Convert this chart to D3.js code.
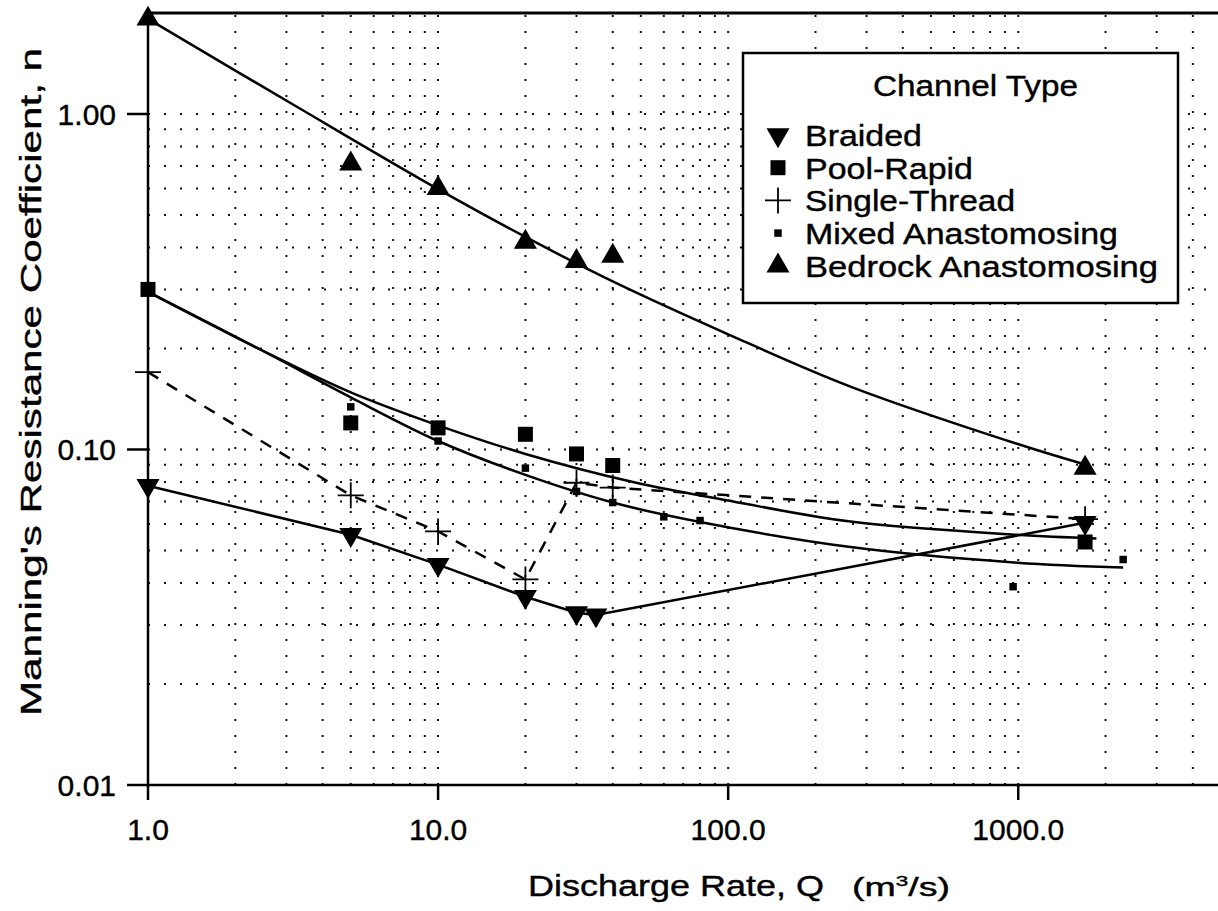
<!DOCTYPE html>
<html><head><meta charset="utf-8">
<script src="https://cdn.jsdelivr.net/npm/d3@7"></script>
<style>body{margin:0;background:#fff}svg{display:block}</style>
</head><body><svg id="c" width="1218" height="911"></svg>
<script>
// ---- data ----
const xTickValues = [1, 10, 100, 1000];
const xTickLabels = ["1.0", "10.0", "100.0", "1000.0"];
const yTickValues = [1, 0.1, 0.01];
const yTickLabels = ["1.00", "0.10", "0.01"];

const braidedQ = [1, 5, 10, 20, 30, 35, 1700];
const braidedN = [0.078, 0.0557, 0.0454, 0.0364, 0.0326, 0.0321, 0.0605];

const poolQ = [1, 5, 10, 20, 30, 40, 1700];
const poolN = [0.30, 0.12, 0.116, 0.111, 0.097, 0.0896, 0.053];
const poolFitQ = [1, 2.4, 5, 10, 20, 47, 104, 264, 990, 1860];
const poolFitN = [0.295, 0.20, 0.148, 0.118, 0.097, 0.080, 0.070, 0.061, 0.0557, 0.0543];

const singleQ = [1, 5, 10, 20, 30, 40, 1700];
const singleN = [0.17, 0.073, 0.057, 0.041, 0.0796, 0.077, 0.062];

const mixedQ = [5, 10, 20, 30, 40, 60, 80, 960, 2300];
const mixedN = [0.134, 0.106, 0.088, 0.075, 0.0695, 0.063, 0.0614, 0.039, 0.047];
const mixedFitQ = [1, 2.4, 5, 10, 20, 40, 80, 264, 990, 2300];
const mixedFitN = [0.295, 0.20, 0.143, 0.106, 0.084, 0.0695, 0.0608, 0.0512, 0.046, 0.0445];

const bedrockQ = [1, 5, 10, 20, 30, 40, 1700];
const bedrockN = [1.92, 0.71, 0.60, 0.415, 0.364, 0.377, 0.088];
const bedrockFitQ = [1, 3.27, 10, 20, 40, 100, 264, 990, 1700];
const bedrockFitN = [1.92, 1.049, 0.597, 0.430, 0.317, 0.2205, 0.154, 0.104, 0.0902];

const legendTitle = "Channel Type";
const legendLabels = ["Braided", "Pool-Rapid", "Single-Thread", "Mixed Anastomosing", "Bedrock Anastomosing"];
const legendKeys = ["down", "square", "plus", "small", "up"];

// ---- drawing ----
const svg = d3.select("#c");
const FONT = "'Liberation Sans', Arial, Helvetica, sans-serif";
const x = d3.scaleLog().domain([1, 5000]).range([148, 1221]);
const y = d3.scaleLog().domain([0.01, 2]).range([785, 13]);

const grid = svg.append("g").attr("stroke", "#111").attr("stroke-width", 2)
  .attr("stroke-dasharray", "2,14");
grid.selectAll("line.gx").data(x.ticks().filter(v => v > 1)).join("line")
  .attr("x1", d => x(d)).attr("x2", d => x(d)).attr("y1", 785).attr("y2", 13);
grid.selectAll("line.gy").data(y.ticks().filter(v => v > 0.01 && v < 2)).join("line")
  .attr("y1", d => y(d)).attr("y2", d => y(d)).attr("x1", 148).attr("x2", 1221);

// axes
const ax = svg.append("g").attr("stroke", "#000").attr("stroke-width", 2.5).attr("fill", "none");
ax.append("line").attr("x1", x(1)).attr("x2", x(1)).attr("y1", y(2)).attr("y2", y(0.01));
ax.append("line").attr("x1", x(1)).attr("x2", 1218).attr("y1", y(0.01)).attr("y2", y(0.01));
ax.append("line").attr("x1", x(1)).attr("x2", 1218).attr("y1", y(2)).attr("y2", y(2)).attr("stroke-width", 3);
ax.selectAll("line.tx").data(xTickValues).join("line")
  .attr("x1", d => x(d)).attr("x2", d => x(d)).attr("y1", y(0.01)).attr("y2", y(0.01) + 15);
ax.selectAll("line.ty").data(yTickValues).join("line")
  .attr("y1", d => y(d)).attr("y2", d => y(d)).attr("x1", x(1) - 21).attr("x2", x(1));

const txt = (sel) => sel.attr("font-family", FONT).attr("stroke", "#000").attr("stroke-width", 0.4);
svg.append("g").selectAll("text").data(xTickValues).join("text")
  .attr("x", d => x(d)).attr("y", 840).attr("text-anchor", "middle")
  .call(txt).attr("font-size", 30).text((d, i) => xTickLabels[i]);
svg.append("g").selectAll("text").data(yTickValues).join("text")
  .attr("x", 116).attr("y", d => y(d) + 11).attr("text-anchor", "end")
  .call(txt).attr("font-size", 30).text((d, i) => yTickLabels[i]);

// titles
svg.append("text").attr("transform", "translate(41,382) rotate(-90)")
  .attr("text-anchor", "middle").call(txt).attr("font-size", 30)
  .attr("textLength", 668).attr("lengthAdjust", "spacingAndGlyphs")
  .text("Manning's Resistance Coefficient, n");
svg.append("text").attr("x", 528).attr("y", 896).call(txt).attr("font-size", 30)
  .attr("textLength", 296).attr("lengthAdjust", "spacingAndGlyphs").text("Discharge Rate, Q");
const unit = svg.append("text").attr("x", 852).attr("y", 896).call(txt).attr("font-size", 25)
  .attr("textLength", 98).attr("lengthAdjust", "spacingAndGlyphs");
unit.append("tspan").text("(m");
unit.append("tspan").attr("font-size", 15).attr("dy", -10).text("3");
unit.append("tspan").attr("dy", 10).text("/s)");

// lines
const lineGen = (curve) => d3.line().x(d => x(d[0])).y(d => y(d[1])).curve(curve);
const zip = (a, b) => a.map((v, i) => [v, b[i]]);
const lines = svg.append("g").attr("fill", "none").attr("stroke", "#000").attr("stroke-width", 2.5);
lines.append("path").attr("d", lineGen(d3.curveCatmullRom.alpha(0.5))(zip(bedrockFitQ, bedrockFitN)));
lines.append("path").attr("d", lineGen(d3.curveCatmullRom.alpha(0.5))(zip(poolFitQ, poolFitN)));
lines.append("path").attr("d", lineGen(d3.curveCatmullRom.alpha(0.5))(zip(mixedFitQ, mixedFitN)));
lines.append("path").attr("d", lineGen(d3.curveLinear)(zip(braidedQ, braidedN)));
lines.append("path").attr("d", lineGen(d3.curveLinear)(zip(singleQ, singleN)))
  .attr("stroke-dasharray", "12,10");

// markers
const sym = {
  up: d3.symbol().type(d3.symbolTriangle).size(230)(),
  down: d3.symbol().type(d3.symbolTriangle).size(230)(),
  square: d3.symbol().type(d3.symbolSquare).size(225)(),
  small: d3.symbol().type(d3.symbolSquare).size(56)(),
};
function drawMarker(g, key, cx, cy) {
  if (key === "plus") {
    g.append("path").attr("d", `M${cx - 13},${cy}H${cx + 13}M${cx},${cy - 13}V${cy + 13}`)
      .attr("stroke", "#000").attr("stroke-width", 1.8).attr("fill", "none");
  } else {
    g.append("path").attr("d", sym[key])
      .attr("transform", `translate(${cx},${cy})` + (key === "down" ? " rotate(180)" : ""))
      .attr("fill", "#000");
  }
}
const mk = svg.append("g");
[[mixedQ, mixedN, "small"], [poolQ, poolN, "square"], [singleQ, singleN, "plus"],
 [braidedQ, braidedN, "down"], [bedrockQ, bedrockN, "up"]].forEach(([qs, ns, key]) => {
  qs.forEach((q, i) => drawMarker(mk, key, x(q), y(ns[i])));
});

// legend
const lg = svg.append("g");
lg.append("rect").attr("x", 743).attr("y", 53).attr("width", 435).attr("height", 250)
  .attr("fill", "#fff").attr("stroke", "#000").attr("stroke-width", 2.5);
lg.append("text").attr("x", 873).attr("y", 96).call(txt).attr("font-size", 29)
  .attr("textLength", 205).attr("lengthAdjust", "spacingAndGlyphs").text(legendTitle);
const legendWidths = [117, 168, 210, 313, 353];
legendLabels.forEach((lab, i) => {
  const cy = 135 + i * 32.7;
  drawMarker(lg, legendKeys[i], 778, cy);
  lg.append("text").attr("x", 805).attr("y", cy + 11).call(txt).attr("font-size", 29)
    .attr("textLength", legendWidths[i]).attr("lengthAdjust", "spacingAndGlyphs").text(lab);
});
</script></body></html>
